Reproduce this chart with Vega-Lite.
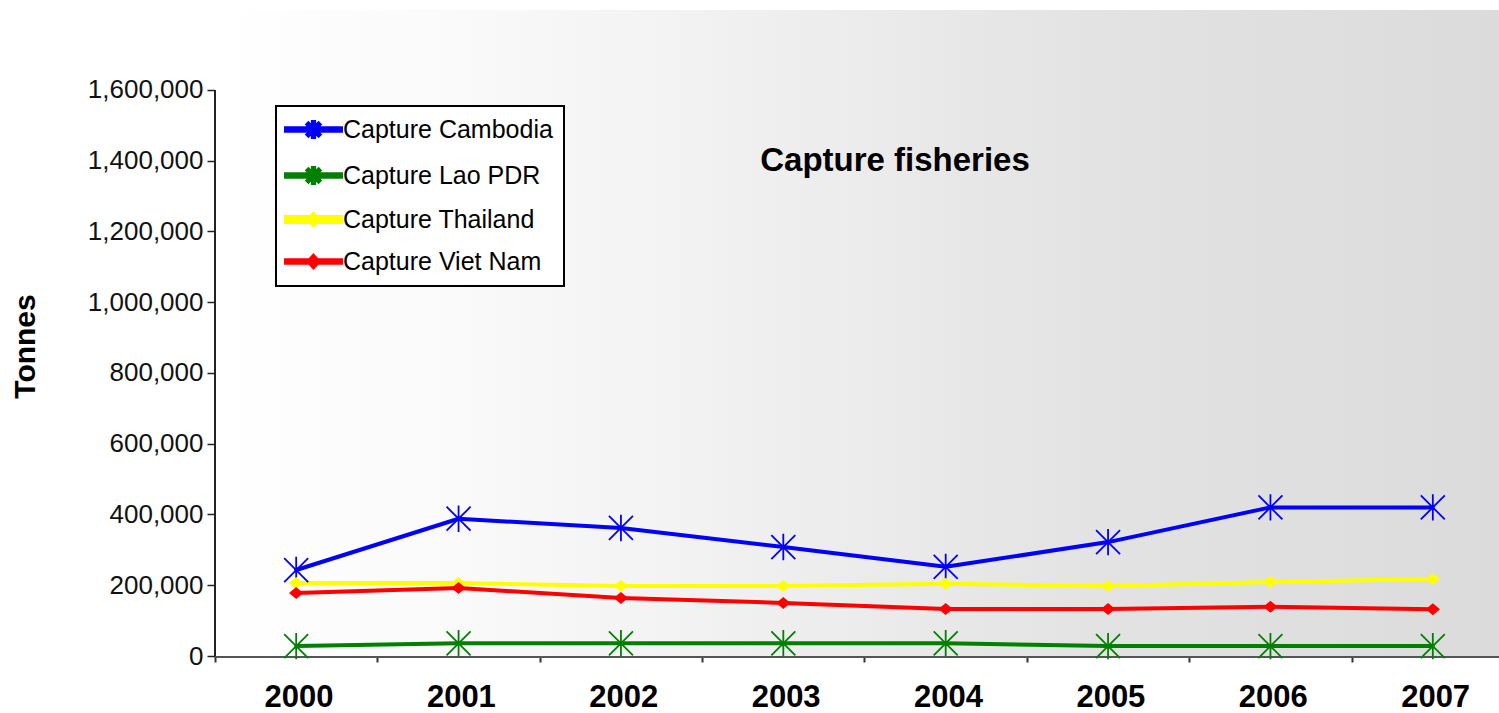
{
  "$schema": "https://vega.github.io/schema/vega-lite/v6.json",
  "width": 1284,
  "height": 646,
  "autosize": {"type": "none"},
  "padding": {"left": 215, "top": 10, "right": 0, "bottom": 57},
  "background": "#ffffff",
  "config": {
    "view": {"stroke": null},
    "legend": {
      "orient": "none",
      "legendX": 61,
      "legendY": 96,
      "labelFont": "Liberation Sans",
      "labelFontSize": 25,
      "labelColor": "#000000",
      "labelLimit": 400,
      "symbolSize": 100,
      "symbolStrokeWidth": 0,
      "symbolOffset": 14,
      "labelOffset": 17,
      "rowPadding": 15,
      "padding": 11,
      "strokeColor": "#000000",
      "strokeWidth": 2,
      "fillColor": "#ffffff",
      "symbolOpacity": 1
    }
  },
  "title": {
    "text": "Capture fisheries",
    "font": "Liberation Sans",
    "fontSize": 33,
    "fontWeight": "bold",
    "color": "#000000",
    "anchor": "middle",
    "frame": "group",
    "offset": 0,
    "baseline": "alphabetic",
    "dx": 38,
    "dy": 194
  },
  "data": {
    "values": [
      {"year": "2000", "series": "Capture Cambodia", "tonnes": 243000},
      {"year": "2001", "series": "Capture Cambodia", "tonnes": 388000},
      {"year": "2002", "series": "Capture Cambodia", "tonnes": 362000},
      {"year": "2003", "series": "Capture Cambodia", "tonnes": 308000},
      {"year": "2004", "series": "Capture Cambodia", "tonnes": 252000},
      {"year": "2005", "series": "Capture Cambodia", "tonnes": 322000},
      {"year": "2006", "series": "Capture Cambodia", "tonnes": 420000},
      {"year": "2007", "series": "Capture Cambodia", "tonnes": 420000},
      {"year": "2000", "series": "Capture Lao PDR", "tonnes": 28000},
      {"year": "2001", "series": "Capture Lao PDR", "tonnes": 36000},
      {"year": "2002", "series": "Capture Lao PDR", "tonnes": 36000},
      {"year": "2003", "series": "Capture Lao PDR", "tonnes": 36000},
      {"year": "2004", "series": "Capture Lao PDR", "tonnes": 36000},
      {"year": "2005", "series": "Capture Lao PDR", "tonnes": 28000},
      {"year": "2006", "series": "Capture Lao PDR", "tonnes": 28000},
      {"year": "2007", "series": "Capture Lao PDR", "tonnes": 28000},
      {"year": "2000", "series": "Capture Thailand", "tonnes": 206000},
      {"year": "2001", "series": "Capture Thailand", "tonnes": 206000},
      {"year": "2002", "series": "Capture Thailand", "tonnes": 198000},
      {"year": "2003", "series": "Capture Thailand", "tonnes": 198000},
      {"year": "2004", "series": "Capture Thailand", "tonnes": 204000},
      {"year": "2005", "series": "Capture Thailand", "tonnes": 198000},
      {"year": "2006", "series": "Capture Thailand", "tonnes": 209000},
      {"year": "2007", "series": "Capture Thailand", "tonnes": 218000},
      {"year": "2000", "series": "Capture Viet Nam", "tonnes": 178000},
      {"year": "2001", "series": "Capture Viet Nam", "tonnes": 192000},
      {"year": "2002", "series": "Capture Viet Nam", "tonnes": 164000},
      {"year": "2003", "series": "Capture Viet Nam", "tonnes": 150000},
      {"year": "2004", "series": "Capture Viet Nam", "tonnes": 133000},
      {"year": "2005", "series": "Capture Viet Nam", "tonnes": 133000},
      {"year": "2006", "series": "Capture Viet Nam", "tonnes": 139000},
      {"year": "2007", "series": "Capture Viet Nam", "tonnes": 132000}
    ]
  },
  "layer": [
    {
      "mark": {
        "type": "rect",
        "color": {"gradient": "linear", "x1": 0, "y1": 0, "x2": 1, "y2": 0,
          "stops": [
            {"offset": 0, "color": "#ffffff"},
            {"offset": 0.18, "color": "#fafafa"},
            {"offset": 0.37, "color": "#f2f2f2"},
            {"offset": 0.68, "color": "#e3e3e3"},
            {"offset": 1, "color": "#dbdbdb"}
          ]}
      },
      "encoding": {}
    },
    {
      "transform": [{"filter": "datum.tonnes < 0"}],
      "mark": {"type": "point", "filled": true, "opacity": 1},
      "encoding": {
        "x": {"field": "year", "type": "nominal", "sort": null},
        "y": {"field": "tonnes", "type": "quantitative"},
        "color": {"field": "series", "type": "nominal", "legend": {"title": null}},
        "shape": {
          "field": "series",
          "type": "nominal",
          "scale": {
            "domain": ["Capture Cambodia", "Capture Lao PDR", "Capture Thailand", "Capture Viet Nam"],
            "range": [
              "M-5.5,-0.25L5.5,-0.25L5.5,0.25L-5.5,0.25ZM-0.12,-1.5L0.12,-1.5L0.12,1.5L-0.12,1.5ZM-1.015,-1.185L1.185,1.015L1.015,1.185L-1.185,-1.015ZM-1.185,1.015L1.015,-1.185L1.185,-1.015L-1.015,1.185Z",
              "M-5.5,-0.25L5.5,-0.25L5.5,0.25L-5.5,0.25ZM-0.12,-1.5L0.12,-1.5L0.12,1.5L-0.12,1.5ZM-1.015,-1.185L1.185,1.015L1.015,1.185L-1.185,-1.015ZM-1.185,1.015L1.015,-1.185L1.185,-1.015L-1.015,1.185Z",
              "M-5.5,-0.5L5.5,-0.5L5.5,0.5L-5.5,0.5ZM0,-1.1L1,0L0,1.1L-1,0Z",
              "M-5.5,-0.25L5.5,-0.25L5.5,0.25L-5.5,0.25ZM0,-1.1L1,0L0,1.1L-1,0Z"
            ]
          },
          "legend": {"title": null}
        }
      }
    },
    {
      "mark": {"type": "line", "strokeJoin": "round", "strokeCap": "round"},
      "encoding": {
        "x": {
          "field": "year",
          "type": "nominal",
          "sort": null,
          "scale": {"type": "band", "paddingInner": 0, "paddingOuter": 0, "range": [0, 1299]},
          "axis": {
            "title": null,
            "labelAngle": 0,
            "labelFont": "Liberation Sans",
            "labelFontSize": 31,
            "labelFontWeight": "bold",
            "labelColor": "#000000",
            "labelPadding": 35,
            "tickOffset": -81.2,
            "labelOffset": 118,
            "tickSize": 6,
            "tickWidth": 2,
            "tickColor": "#333333",
            "domainColor": "#555555",
            "domainWidth": 3,
            "grid": false
          }
        },
        "y": {
          "field": "tonnes",
          "type": "quantitative",
          "scale": {"domain": [0, 1826000], "nice": false, "zero": true},
          "axis": {
            "title": "Tonnes",
            "titleFont": "Liberation Sans",
            "titleFontSize": 30,
            "titleFontWeight": "bold",
            "titleColor": "#000000",
            "titlePadding": 47,
            "titleY": 336,
            "values": [0, 200000, 400000, 600000, 800000, 1000000, 1200000, 1400000, 1600000],
            "format": ",d",
            "labelFont": "Liberation Sans",
            "labelFontSize": 26,
            "labelColor": "#111111",
            "labelPadding": 4,
            "tickSize": 8,
            "tickWidth": 1.5,
            "tickColor": "#222222",
            "domain": false,
            "grid": false
          }
        },
        "color": {
          "field": "series",
          "type": "nominal",
          "scale": {
            "domain": ["Capture Cambodia", "Capture Lao PDR", "Capture Thailand", "Capture Viet Nam"],
            "range": ["#0000ff", "#008000", "#ffff00", "#ff0000"]
          },
          "legend": null
        },
        "strokeWidth": {
          "field": "series",
          "type": "nominal",
          "scale": {
            "domain": ["Capture Cambodia", "Capture Lao PDR", "Capture Thailand", "Capture Viet Nam"],
            "range": [4, 4, 7, 4]
          },
          "legend": null
        }
      }
    },
    {
      "transform": [{"filter": {"field": "series", "oneOf": ["Capture Cambodia", "Capture Lao PDR"]}}],
      "mark": {
        "type": "point",
        "shape": "M-1,-1L1,1M-1,1L1,-1M0,-1.1L0,1.1",
        "filled": false,
        "size": 576,
        "strokeWidth": 1.8,
        "opacity": 1
      },
      "encoding": {
        "x": {"field": "year", "type": "nominal", "sort": null},
        "y": {"field": "tonnes", "type": "quantitative"},
        "color": {"field": "series", "type": "nominal", "legend": null}
      }
    },
    {
      "transform": [{"filter": {"field": "series", "oneOf": ["Capture Thailand", "Capture Viet Nam"]}}],
      "mark": {
        "type": "point",
        "shape": "M0,-0.5L0.6,0L0,0.5L-0.6,0Z",
        "filled": true,
        "size": 576,
        "opacity": 1
      },
      "encoding": {
        "x": {"field": "year", "type": "nominal", "sort": null},
        "y": {"field": "tonnes", "type": "quantitative"},
        "color": {"field": "series", "type": "nominal", "legend": null}
      }
    },
    {
      "mark": {"type": "rule", "color": "#222222", "strokeWidth": 2},
      "encoding": {
        "x": {"datum": "2000", "type": "nominal", "bandPosition": 0},
        "y": {"datum": 0, "type": "quantitative"},
        "y2": {"datum": 1600000}
      }
    }
  ]
}
